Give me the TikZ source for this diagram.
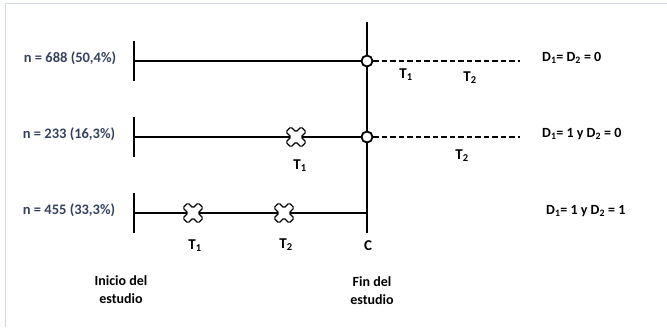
\documentclass[tikz,border=0pt]{standalone}
\usepackage{fontspec}
\setmainfont{Carlito}
\definecolor{nblue}{HTML}{34425E}
\definecolor{frame}{HTML}{D3DAE3}
\begin{document}
\begin{tikzpicture}[x=1pt,y=-1pt,
  lbl/.style={font=\bfseries\fontsize{14}{16}\selectfont,text=black,inner sep=0pt},
  nlbl/.style={font=\bfseries\fontsize{14.5}{16}\selectfont,text=nblue,inner sep=0pt},
  tl/.style={font=\bfseries\fontsize{15}{17}\selectfont,inner sep=0pt},
  axis/.style={line width=1.5pt},
  dashline/.style={line width=1.2pt,dash pattern=on 5.5pt off 3pt},
  circ/.style={circle,draw,line width=1.8pt,fill=white,minimum size=11pt,inner sep=0pt},
  xmark/.pic={\draw[line width=1.2pt,fill=white,rounded corners=1.4pt,rotate=45]
     (-3.5,-10.8)--(3.5,-10.8)--(3.5,-3.5)--(10.8,-3.5)--(10.8,3.5)--(3.5,3.5)--(3.5,10.8)--(-3.5,10.8)--(-3.5,3.5)--(-10.8,3.5)--(-10.8,-3.5)--(-3.5,-3.5)--cycle;}
]
\useasboundingbox (0,0) rectangle (667,327);
% frame
\draw[frame,line width=1pt] (5,327) -- (5,3) -- (667,3);
% row labels
\node[nlbl] (n1) at (70,58) {n = 688 (50,4\%)};
\node[nlbl] (n2) at (69,134) {n = 233 (16,3\%)};
\node[nlbl] (n3) at (69,210) {n = 455 (33,3\%)};
% ticks
\coordinate (a1) at (134,61); \coordinate (a2) at (134,137); \coordinate (a3) at (134,213);
\draw[axis] (134,41) -- (134,81);
\draw[axis] (134,117) -- (134,157);
\draw[axis] (134,193) -- (134,233);
% end vertical
\coordinate (vt) at (367,22); \coordinate (vb) at (367,233);
\draw[axis] (vt) -- (vb);
% circles
\node[circ] (c1) at (367,61) {};
\node[circ] (c2) at (367,137) {};
\coordinate (e3) at (367,213);
\coordinate (d1) at (520,61); \coordinate (d2) at (520,137);
\draw[axis] (a1) -- (c1.west);
\draw[axis] (a2) -- (c2.west);
\draw[axis] (a3) -- (e3);
\draw[dashline] (c1.east) -- (d1);
\draw[dashline] (c2.east) -- (d2);
% crosses
\pic at (296,137) {xmark};
\pic at (193,213) {xmark};
\pic at (284,213) {xmark};
% T labels
\node[tl] (t11) at (406,75) {T\textsubscript{1}};
\node[tl] (t12) at (470,78) {T\textsubscript{2}};
\node[tl] (t21) at (300,166) {T\textsubscript{1}};
\node[tl] (t22) at (462,156) {T\textsubscript{2}};
\node[tl] (t31) at (195,246) {T\textsubscript{1}};
\node[tl] (t32) at (286,245) {T\textsubscript{2}};
\node[tl] (cc) at (368,246) {C};
% D labels
\node[lbl,anchor=west] (dl1) at (542,58) {D\textsubscript{1}= D\textsubscript{2} = 0};
\node[lbl,anchor=west] (dl2) at (542,134) {D\textsubscript{1}= 1 y D\textsubscript{2} = 0};
\node[lbl,anchor=west] (dl3) at (546,211) {D\textsubscript{1}= 1 y D\textsubscript{2} = 1};
% bottom
\node[lbl,align=center,font=\bfseries\fontsize{14}{18}\selectfont] (ini) at (121,290) {Inicio del\\estudio};
\node[lbl,align=center,font=\bfseries\fontsize{14}{18}\selectfont] (fin) at (372,291) {Fin del\\estudio};
\end{tikzpicture}
\end{document}
